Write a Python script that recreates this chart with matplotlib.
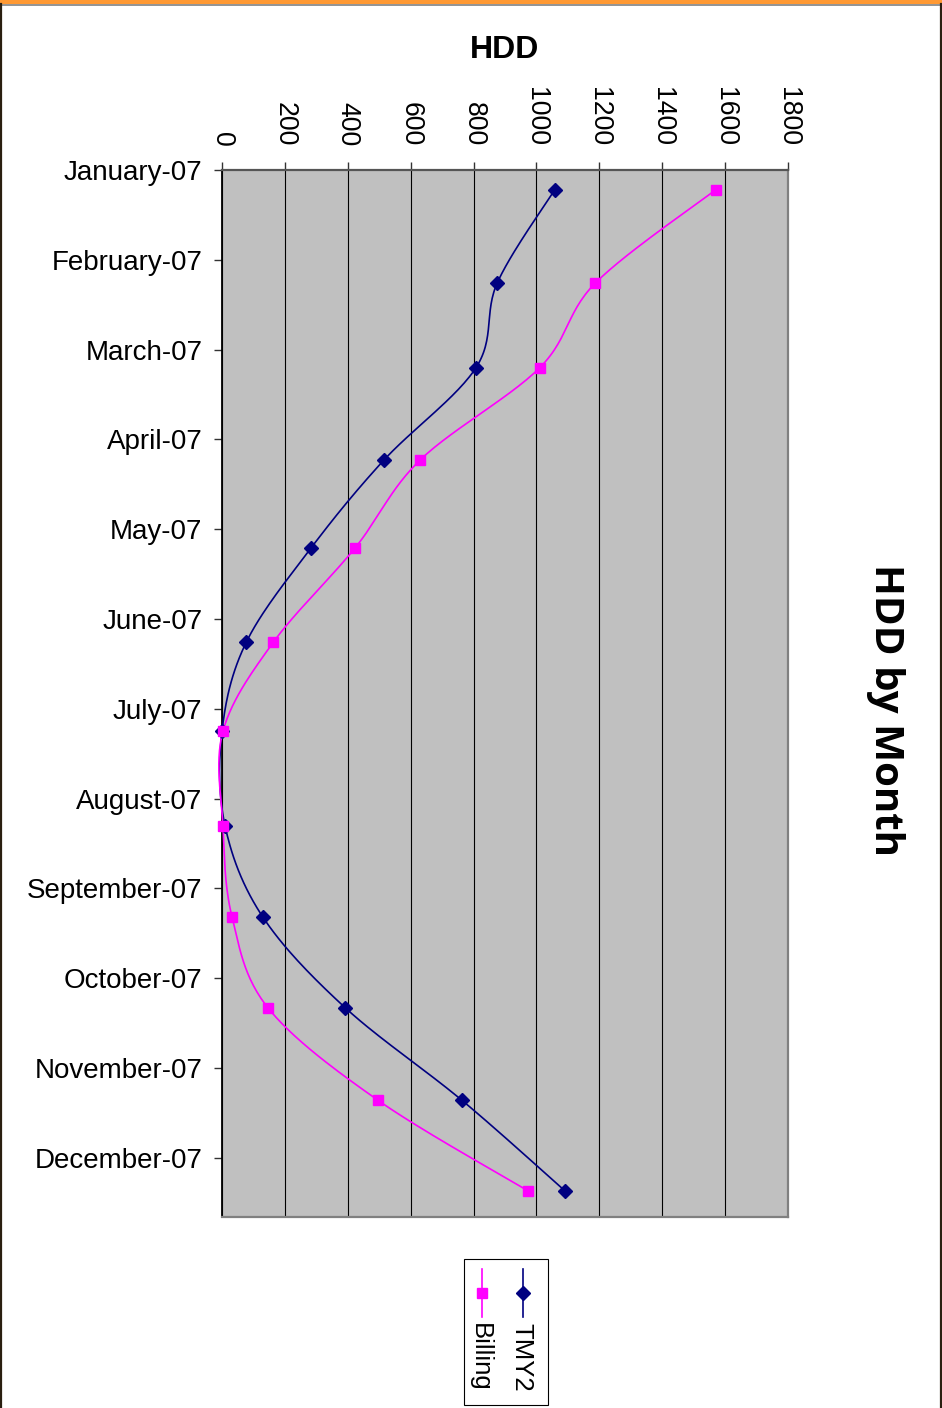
import numpy as np
import matplotlib.pyplot as plt
from matplotlib.lines import Line2D
from matplotlib.patches import Rectangle

months = ["January-07", "February-07", "March-07", "April-07", "May-07", "June-07",
          "July-07", "August-07", "September-07", "October-07", "November-07", "December-07"]
# reading date within each month, as a fraction of the month spacing
read_offset = [0.22, 0.26, 0.20, 0.23, 0.21, 0.26, 0.25, 0.31, 0.32, 0.33, 0.36, 0.37]
tmy2 = [1058, 875, 808, 515, 283, 77, 0, 10, 130, 392, 763, 1091]
billing = [1570, 1187, 1011, 630, 423, 163, 3, 3, 32, 146, 496, 974]
hdd_ticks = [0, 200, 400, 600, 800, 1000, 1200, 1400, 1600, 1800]

W, H = 942, 1408
FONT = ["Liberation Sans", "DejaVu Sans"]


def fx(px):
    return px / W


def fy(py):
    return 1 - py / H


def smooth(xs, ys, n=30):
    # Excel-like smoothed line (uniform Catmull-Rom)
    p = np.column_stack([xs, ys]).astype(float)
    p = np.vstack([p[0], p, p[-1]])
    out = []
    t = np.linspace(0, 1, n)[:, None]
    for i in range(1, len(p) - 2):
        p0, p1, p2, p3 = p[i - 1], p[i], p[i + 1], p[i + 2]
        seg = 0.5 * ((2 * p1) + (-p0 + p2) * t + (2 * p0 - 5 * p1 + 4 * p2 - p3) * t ** 2
                     + (-p0 + 3 * p1 - 3 * p2 + p3) * t ** 3)
        out.append(seg)
    out = np.vstack(out)
    return out[:, 0], out[:, 1]


fig = plt.figure(figsize=(W / 100, H / 100), dpi=100)

# outer frame
fig.patches.append(Rectangle((0, fy(4)), 1, 4 / H, transform=fig.transFigure,
                             facecolor="#FF9933", edgecolor="none"))
fig.add_artist(Line2D([0, 1], [fy(5), fy(5)], color="#808080", lw=1.2))
fig.add_artist(Line2D([fx(1), fx(1)], [0, fy(4)], color="#2a1f10", lw=1.6))
fig.add_artist(Line2D([fx(941), fx(941)], [0, fy(4)], color="#2a1f10", lw=1.6))

ax = fig.add_axes([fx(222), fy(1217), fx(788) - fx(222), (1217 - 170) / H])
ax.set_facecolor("#C0C0C0")

ypos = [i + o for i, o in enumerate(read_offset)]

sx, sy = smooth(tmy2, ypos)
ax.plot(sx, sy, color="#000080", lw=1.2, clip_on=False, zorder=3)
ax.plot(tmy2, ypos, linestyle="none", marker="D", markersize=7, color="#000080",
        clip_on=False, zorder=4)

sx, sy = smooth(billing, ypos)
ax.plot(sx, sy, color="#FF00FF", lw=1.2, clip_on=False, zorder=3)
ax.plot(billing, ypos, linestyle="none", marker="s", markersize=7.5, color="#FF00FF",
        clip_on=False, zorder=4)

ax.set_xlim(0, 1800)
ax.set_ylim(11.66, 0)
ax.xaxis.tick_top()
ax.set_xticks(hdd_ticks)
ax.set_xticklabels([str(v) for v in hdd_ticks], rotation=-90, family=FONT, fontsize=19.2)
ax.set_yticks(range(len(months)))
ax.set_yticklabels(months, family=FONT, fontsize=20)
ax.tick_params(axis="x", direction="out", length=6, width=1, color="#333333", pad=11)
ax.tick_params(axis="y", direction="out", length=6, width=1, color="#333333", pad=8)
ax.grid(axis="x", color="black", lw=0.8)
ax.set_axisbelow(True)
ax.spines["left"].set_color("black")
ax.spines["left"].set_linewidth(1.3)
ax.spines["top"].set_color("#555555")
ax.spines["top"].set_linewidth(1.6)
for s in ["right", "bottom"]:
    ax.spines[s].set_color("#808080")
    ax.spines[s].set_linewidth(1.6)

fig.text(fx(505), fy(50), "HDD", ha="center", va="center", family=FONT,
         fontsize=23, fontweight="bold")
fig.text(fx(885), fy(710), "HDD by Month", ha="center", va="center", rotation=-90,
         family=["Open Sans", "DejaVu Sans"], fontsize=29, fontweight="bold")

# legend, rotated like the rest of the chart
fig.patches.append(Rectangle((fx(464), fy(1405)), fx(548) - fx(464), (1405 - 1259) / H,
                             transform=fig.transFigure, facecolor="white",
                             edgecolor="black", lw=0.8))
for xp, col, mk, ms, name in [(523, "#000080", "D", 7, "TMY2"),
                              (482, "#FF00FF", "s", 7.5, "Billing")]:
    fig.add_artist(Line2D([fx(xp), fx(xp)], [fy(1269), fy(1317)], color=col, lw=1.2))
    fig.add_artist(Line2D([fx(xp)], [fy(1293)], color=col, marker=mk, markersize=ms))
    fig.text(fx(xp - 2), fy(1323), name, ha="center", va="top", rotation=-90,
             family=FONT, fontsize=18.5)

fig.savefig("out.png", dpi=100)
